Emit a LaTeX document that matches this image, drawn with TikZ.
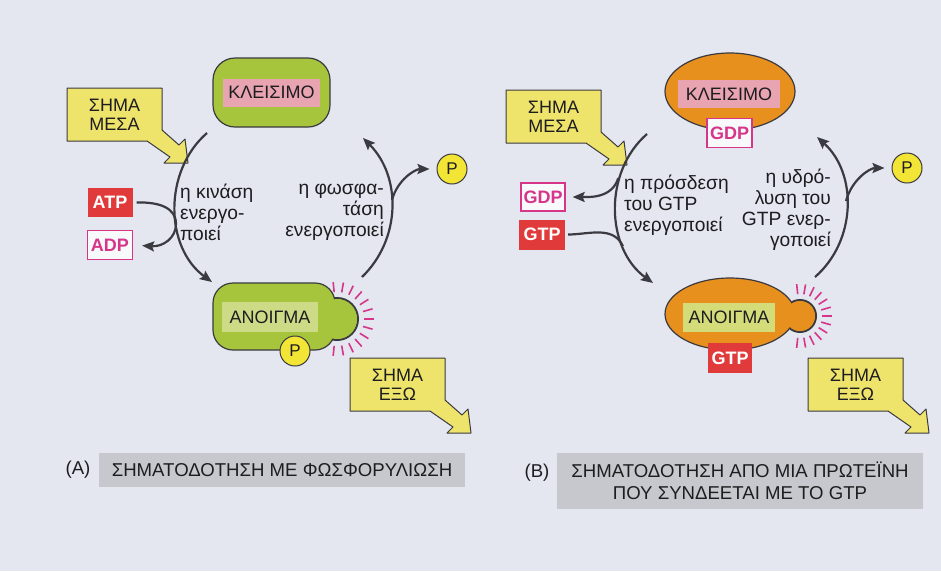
\documentclass[tikz,border=0pt]{standalone}
\usepackage{fontspec}
\setmainfont{Liberation Sans}
\usepackage{xcolor}
\usepackage{tikz}
\usetikzlibrary{arrows.meta, positioning, calc, shapes.geometric}
\definecolor{page}{HTML}{E4E6F0}
\definecolor{leaf}{HTML}{A6C43C}
\definecolor{leaflight}{HTML}{CDDB86}
\definecolor{amber}{HTML}{E8901E}
\definecolor{amberlight}{HTML}{D4DC7A}
\definecolor{rose}{HTML}{E8A4B0}
\definecolor{sign}{HTML}{EEE46C}
\definecolor{phos}{HTML}{F3E535}
\definecolor{fire}{HTML}{E03A3A}
\definecolor{mag}{HTML}{D6358A}
\definecolor{ink}{HTML}{3A3A40}
\definecolor{capgrey}{HTML}{C7C8CE}

\tikzset{
  txt/.style={font=\fontsize{18}{21}\selectfont, text=ink!50!black, inner sep=0pt},
  verb/.style={txt, font=\fontsize{19.2}{21}\selectfont},
  flow/.style={draw=ink, line width=2.2pt},
  arrowed/.style={-{Stealth[length=12pt,width=10pt,inset=2pt]}},
  tag/.style={txt},
  ptag/.style={draw=ink, line width=1pt, fill=phos, circle, minimum size=30pt, inner sep=0pt,
    font=\fontsize{17}{17}\selectfont, text=ink!50!black},
  nucl/.style={font=\bfseries\fontsize{18}{18}\selectfont, inner sep=0pt, minimum height=29pt, minimum width=45pt},
  charged/.style={nucl, fill=fire, text=white},
  spent/.style={nucl, fill=white!75!page, draw=mag, line width=1.3pt, text=mag},
  ray/.style={draw=mag, line width=1.6pt},
}

\begin{document}
\begin{tikzpicture}[x=1pt, y=1pt]
% page
\fill[page] (0,0) rectangle (941,-571);
\useasboundingbox (0,0) rectangle (941,-571);

% signal callouts
\foreach \nm/\x/\y/\txt in {inA/67/88/{ΣΗΜΑ\\ΜΕΣΑ}, outA/350/358/{ΣΗΜΑ\\ΕΞΩ},
    inB/506/90/{ΣΗΜΑ\\ΜΕΣΑ}, outB/808/358/{ΣΗΜΑ\\ΕΞΩ}}{
  \draw[fill=sign, draw=ink, line width=1pt, line join=round, shift={(\x,-\y)}]
    (0,0) -- (95,0) -- (95,-42) -- (112,-57) -- (118,-51) -- (121,-75)
    -- (97,-75) -- (103,-69) -- (80,-53) -- (0,-53) -- cycle;
  \node[txt, align=center, font=\fontsize{18}{18.5}\selectfont] (\nm) at (\x+47.5,-\y-27) {\txt};
}

% (A) kinase / phosphatase
\node[draw=ink, line width=1.2pt, fill=leaf, rounded corners=22pt, minimum width=117pt, minimum height=69pt] (shutA) at (271.5,-92.5) {};
\node[tag, fill=rose, minimum width=97pt, minimum height=28pt] (shutAtag) at (shutA) {ΚΛΕΙΣΙΜΟ};

\node[draw=ink, line width=2pt, fill=leaf, circle, minimum size=42pt, inner sep=0pt] (knobA) at (337,-319) {};
\node[draw=ink, line width=1.2pt, fill=leaf, rounded corners=20pt, minimum width=122pt, minimum height=67pt] (openA) at (274,-316.5) {};
\fill[leaf] (knobA.center) circle (20pt);
\foreach \a in {-96,-80,...,96}
  \draw[ray] ($(knobA.center)+(\a:27)$) -- ($(knobA.center)+(\a:37)$);
\node[tag, fill=leaflight, minimum width=96pt, minimum height=30pt] (openAtag) at (270,-317) {ΑΝΟΙΓΜΑ};
\node[ptag] (pA) at (295,-351) {P};

\coordinate (kinA1) at (207,-133);
\coordinate (kinA2) at (212,-282);
\draw[flow, arrowed] (kinA1) to[out=221, in=144] (kinA2);
\coordinate (phosA1) at (362,-277);
\coordinate (phosA2) at (363,-138);
\draw[flow, arrowed] (phosA1) to[out=44, in=-45] (phosA2);

\node[ptag] (pfreeA) at (452,-169) {P};
\coordinate (relA) at (392,-200);
\draw[flow, arrowed, shorten >=7pt] (relA) to[out=75, in=180] (pfreeA);

\node[charged] (atpA) at (110,-202.5) {ATP};
\node[spent] (adpA) at (110,-245) {ADP};
\coordinate (kissA) at (176,-224);
\draw[flow, arrowed, shorten <=4pt, shorten >=9pt] (atpA.east) .. controls (160,-202) and (176,-208) .. (kissA)
  .. controls (176,-238) and (163,-247) .. (adpA.east);

\node[verb, align=left, anchor=west] (kinA) at (180,-212) {η κινάση\\ενεργο-\\ποιεί};
\node[verb, align=right, anchor=east] (phosA) at (384,-212) {η φωσφα-\\τάση\\ενεργοποιεί};

\node[txt, font=\fontsize{18.6}{22}\selectfont] (capAtag) at (78,-470) {(Α)};
\node[txt, fill=capgrey, minimum width=366pt, minimum height=34pt, font=\fontsize{18.6}{22}\selectfont] (capA) at (282,-470) {ΣΗΜΑΤΟΔΟΤΗΣΗ ΜΕ ΦΩΣΦΟΡΥΛΙΩΣΗ};

% (B) GTP-binding protein
\node[draw=ink, line width=1.2pt, fill=amber, ellipse, minimum width=130pt, minimum height=77pt, inner sep=0pt] (shutB) at (730,-91.5) {};
\node[tag, fill=rose, minimum width=102pt, minimum height=28pt] (shutBtag) at (729,-94) {ΚΛΕΙΣΙΜΟ};
\node[spent] (gdpB1) at (729.5,-133) {GDP};

\node[draw=ink, line width=2pt, fill=amber, circle, minimum size=32pt, inner sep=0pt] (knobB) at (800,-316) {};
\node[draw=ink, line width=1.2pt, fill=amber, ellipse, minimum width=130pt, minimum height=72pt, inner sep=0pt] (openB) at (730,-314) {};
\fill[amber] (knobB.center) circle (15pt);
\foreach \a in {-96,-80,...,96}
  \draw[ray] ($(knobB.center)+(\a:22)$) -- ($(knobB.center)+(\a:32)$);
\node[tag, fill=amberlight, minimum width=92pt, minimum height=29pt] (openBtag) at (729,-317.5) {ΑΝΟΙΓΜΑ};
\node[charged, minimum width=44pt, minimum height=30pt] (gtpB2) at (730,-358) {GTP};

\coordinate (bindB1) at (647,-134);
\coordinate (bindB2) at (653,-283);
\draw[flow, arrowed] (bindB1) to[out=221, in=144] (bindB2);
\coordinate (hydB1) at (815,-277);
\coordinate (hydB2) at (817,-137);
\draw[flow, arrowed] (hydB1) to[out=41, in=-42] (hydB2);

\node[ptag] (pfreeB) at (907,-168) {P};
\coordinate (relB) at (846,-201);
\draw[flow, arrowed, shorten >=7pt] (relB) to[out=75, in=180] (pfreeB);

\node[spent, minimum width=44pt, minimum height=28pt] (gdpB2) at (543,-197) {GDP};
\node[charged, minimum width=46pt, minimum height=30pt] (gtpB) at (542,-234.5) {GTP};
\coordinate (forkB) at (618.2,-178.2);
\draw[flow, arrowed, shorten >=7pt] (forkB) to[out=253, in=0] (gdpB2);
\coordinate (mergeB) at (622.9,-246.1);
\draw[flow, shorten <=3pt] (gtpB) to[out=0, in=115] (mergeB);

\node[verb, align=left, anchor=west] (bindB) at (624,-205) {η πρόσδεση\\του GTP\\ενεργοποιεί};
\node[verb, align=right, anchor=east] (hydB) at (831,-210) {η υδρό-\\λυση του\\GTP ενερ-\\γοποιεί};

\node[txt, font=\fontsize{18.6}{22}\selectfont] (capBtag) at (537,-473) {(Β)};
\node[txt, fill=capgrey, minimum width=366pt, minimum height=56pt, align=center, font=\fontsize{18.6}{22}\selectfont] (capB) at (740,-481) {ΣΗΜΑΤΟΔΟΤΗΣΗ ΑΠΟ ΜΙΑ ΠΡΩΤΕΪΝΗ\\ΠΟΥ ΣΥΝΔΕΕΤΑΙ ΜΕ ΤΟ GTP};
\end{tikzpicture}
\end{document}
